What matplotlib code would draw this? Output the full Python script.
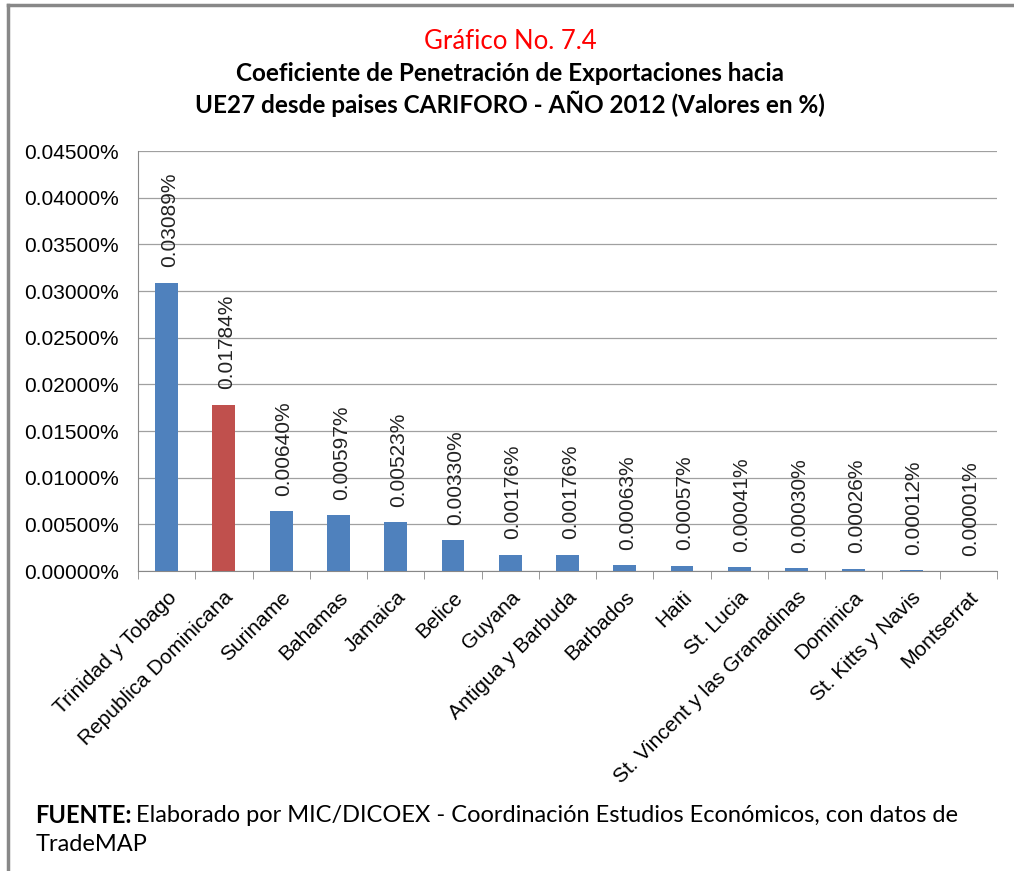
import numpy as np
import matplotlib.pyplot as plt
from matplotlib.lines import Line2D

paises = ['Trinidad y Tobago', 'Republica Dominicana', 'Suriname', 'Bahamas',
          'Jamaica', 'Belice', 'Guyana', 'Antigua y Barbuda', 'Barbados',
          'Haiti', 'St. Lucia', 'St. Vincent y las Granadinas', 'Dominica',
          'St. Kitts y Navis', 'Montserrat']
valores = [0.03089, 0.01784, 0.00640, 0.00597, 0.00523, 0.00330, 0.00176,
           0.00176, 0.00063, 0.00057, 0.00041, 0.00030, 0.00026, 0.00012,
           0.00001]

azul = '#4F81BD'
rojo = '#C0504D'
colores = [rojo if p == 'Republica Dominicana' else azul for p in paises]

fig = plt.figure(figsize=(10.14, 8.71), dpi=100)
ax = fig.add_axes([0.1361, 0.3444, 0.8471, 0.4822])

x = np.arange(len(paises))
ax.bar(x, valores, width=0.4, color=colores, zorder=3)

for xi, v in zip(x, valores):
    ax.annotate('%.5f%%' % v, (xi, v), xytext=(2, 11), textcoords='offset points',
                rotation=90, ha='center', va='bottom', fontsize=15,
                family='Liberation Sans', color='#222222', zorder=4)

ax.set_ylim(0, 0.045)
ax.set_xlim(-0.5, len(paises) - 0.5)
yt = np.arange(0, 0.0451, 0.005)
ax.set_yticks(yt)
ax.set_yticklabels(['%.5f%%' % t for t in yt], fontsize=15, family='Liberation Sans')
ax.yaxis.grid(True, color='#A0A0A0', lw=0.9, zorder=0)
ax.tick_params(axis='y', length=0, pad=14)

ax.set_xticks(x)
ax.set_xticklabels(paises, rotation=45, ha='right', rotation_mode='anchor',
                   fontsize=15, family='Liberation Sans')
ax.set_xticks(np.arange(-0.5, len(paises)), minor=True)
ax.tick_params(axis='x', which='major', length=0, pad=12)
ax.tick_params(axis='x', which='minor', length=6, color='#888888')

for s in ['top', 'right']:
    ax.spines[s].set_visible(False)
ax.spines['left'].set_color('#888888')
ax.spines['bottom'].set_color('#888888')

fig.text(0.503, 0.952, 'Gráfico No. 7.4', color='#FF0000', fontsize=18.5,
         family='Lato', ha='center', va='center')
fig.text(0.503, 0.916, 'Coeficiente de Penetración de Exportaciones hacia',
         fontsize=17.5, family='Lato', weight='bold', ha='center', va='center')
fig.text(0.503, 0.881, 'UE27 desde paises CARIFORO - AÑO 2012 (Valores en %)',
         fontsize=17.5, family='Lato', weight='bold', ha='center', va='center')

# fuente: parte en negrita seguida del texto normal
r = fig.canvas.get_renderer()
t1 = fig.text(0.035, 0.064, 'FUENTE:', fontsize=17, family='Lato',
              weight='bold', va='center')
w = t1.get_window_extent(r).width / fig.bbox.width
fig.text(0.035 + w + 0.004, 0.064,
         'Elaborado por MIC/DICOEX - Coordinación Estudios Económicos, con datos de',
         fontsize=17, family='Lato', va='center')
fig.text(0.035, 0.030, 'TradeMAP', fontsize=17, family='Lato', va='center')

# marco gris del gráfico
fig.add_artist(Line2D([0.008, 0.008], [0, 0.994], color='#888888', lw=2.5,
                      transform=fig.transFigure))
fig.add_artist(Line2D([0.008, 1.0], [0.994, 0.994], color='#888888', lw=2.5,
                      transform=fig.transFigure))

fig.savefig('out.png', dpi=100)
